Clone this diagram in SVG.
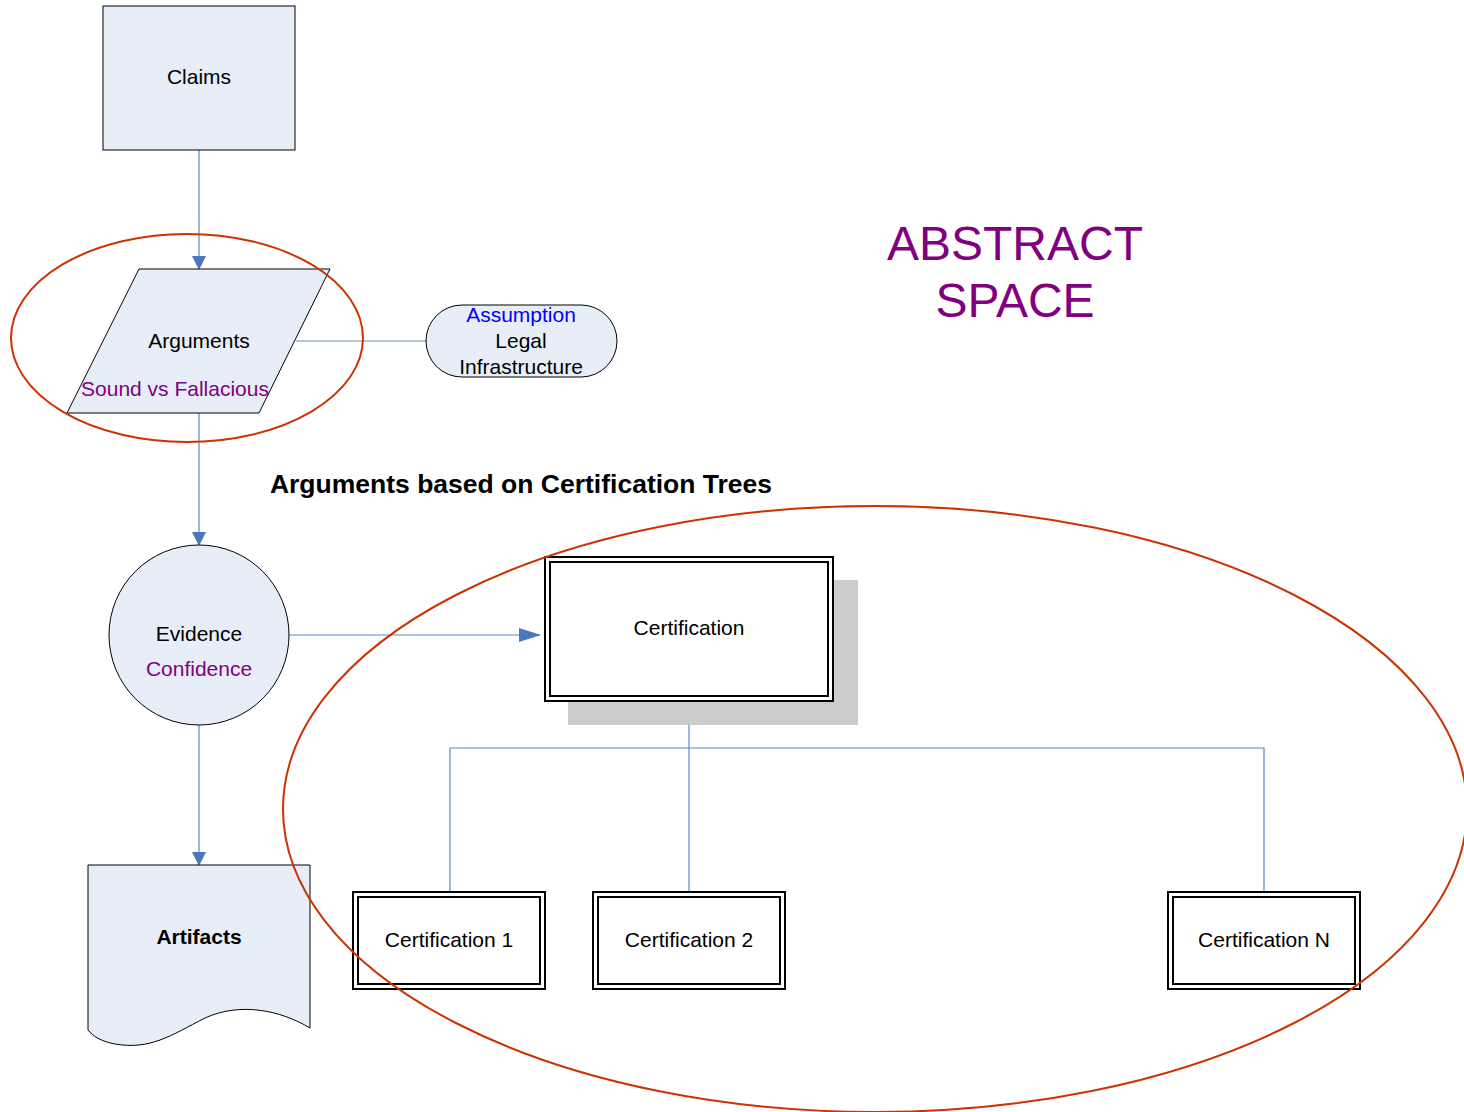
<svg xmlns="http://www.w3.org/2000/svg" width="1464" height="1112" viewBox="0 0 1464 1112">
<defs>
<style>
text{font-family:"Liberation Sans",Arial,sans-serif;font-size:21px;fill:#000;text-anchor:middle}
.node{fill:#E8EEF8;stroke:#000;stroke-width:1}
.conn{fill:none;stroke:#5B87C8;stroke-width:1.2}
.red{fill:none;stroke:#CC3300;stroke-width:2}
.box{fill:#fff;stroke:#000;stroke-width:2}
.purple{fill:#800080}
</style>
<marker id="arr" markerWidth="14" markerHeight="14" refX="13" refY="7" orient="auto" markerUnits="userSpaceOnUse">
<path d="M0,0 L14,7 L0,14 Z" fill="#4A78C0"/>
</marker>
<marker id="arrBig" markerWidth="22" markerHeight="16" refX="21" refY="8" orient="auto" markerUnits="userSpaceOnUse">
<path d="M0,1 L22,8 L0,15 Z" fill="#4A78C0"/>
</marker>
</defs>
<rect width="1464" height="1112" fill="#fff"/>

<g id="connectors">
<line class="conn" x1="199" y1="150" x2="199" y2="269" marker-end="url(#arr)"/>
<line class="conn" x1="199" y1="413" x2="199" y2="545" marker-end="url(#arr)"/>
<line class="conn" x1="199" y1="725" x2="199" y2="865" marker-end="url(#arr)"/>
<line class="conn" x1="289" y1="635" x2="540" y2="635" marker-end="url(#arrBig)"/>
<line class="conn" x1="296" y1="341" x2="435" y2="341" style="stroke:#6F8FB8"/>
<path class="conn" d="M689,701 V892 M450,892 V748 H1264 V892"/>
</g>

<g id="claims">
<rect class="node" x="103" y="6" width="192" height="144"/>
<text x="199" y="84">Claims</text>
</g>

<g id="arguments">
<polygon class="node" points="139,269 330,269 259,413 67,413"/>
<text x="199" y="348">Arguments</text>
<text x="175" y="396" class="purple">Sound vs Fallacious</text>
</g>

<g id="assumption">
<rect class="node" x="426" y="305" width="191" height="72" rx="36" ry="36"/>
<text x="521" y="322" style="fill:#0000FF">Assumption</text>
<text x="521" y="348">Legal</text>
<text x="521" y="374">Infrastructure</text>
</g>

<g id="evidence">
<circle class="node" cx="199" cy="635" r="90"/>
<text x="199" y="641">Evidence</text>
<text x="199" y="676" class="purple">Confidence</text>
</g>

<g id="artifacts">
<path class="node" d="M88,865 H310 V1028 C280,1010 240,1002 205,1018 C170,1036 150,1050 115,1044 C100,1041 93,1036 88,1030 Z"/>
<text x="199" y="944" style="font-weight:bold">Artifacts</text>
</g>

<g id="argumentsEllipse">
<ellipse class="red" cx="187" cy="338" rx="176" ry="104"/>
</g>

<g id="title">
<text x="521" y="493" style="font-weight:bold;font-size:26.5px">Arguments based on Certification Trees</text>
</g>

<g id="abstractSpace">
<text x="1015" y="260" class="purple" style="font-size:48px">ABSTRACT</text>
<text x="1015" y="317" class="purple" style="font-size:48px">SPACE</text>
</g>

<g id="certification">
<rect x="568" y="580" width="290" height="145" fill="#CCCCCC"/>
<rect class="box" x="545" y="557" width="288" height="144"/>
<rect class="box" x="550" y="562" width="278" height="134"/>
<text x="689" y="635">Certification</text>
</g>

<g id="certification1">
<rect class="box" x="353" y="892" width="192" height="97"/>
<rect class="box" x="358" y="897" width="182" height="87"/>
<text x="449" y="947">Certification 1</text>
</g>

<g id="certification2">
<rect class="box" x="593" y="892" width="192" height="97"/>
<rect class="box" x="598" y="897" width="182" height="87"/>
<text x="689" y="947">Certification 2</text>
</g>

<g id="certificationN">
<rect class="box" x="1168" y="892" width="192" height="97"/>
<rect class="box" x="1173" y="897" width="182" height="87"/>
<text x="1264" y="947">Certification N</text>
</g>

<g id="treeEllipse">
<ellipse class="red" cx="875" cy="809" rx="592" ry="303"/>
</g>
</svg>
